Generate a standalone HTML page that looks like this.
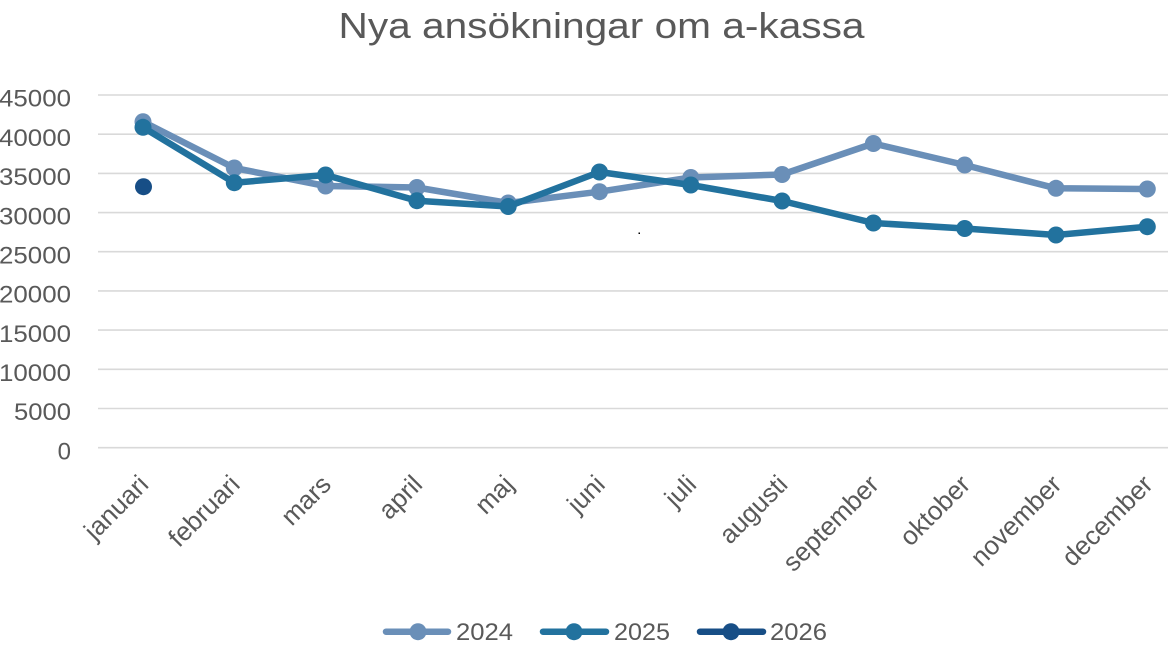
<!DOCTYPE html>
<html>
<head>
<meta charset="utf-8">
<style>
html,body{margin:0;padding:0;background:#fff;}
svg{display:block;}
text{font-family:"Liberation Sans",sans-serif;fill:#595959;}
</style>
</head>
<body>
<svg width="1168" height="650" viewBox="0 0 1168 650" xmlns="http://www.w3.org/2000/svg">
<rect width="1168" height="650" fill="#fff"/>
<text x="338.5" y="38" font-size="36" textLength="526" lengthAdjust="spacingAndGlyphs">Nya ansökningar om a-kassa</text>

<g stroke="#d9d9d9" stroke-width="1.6">
<line x1="98" y1="447.7" x2="1168" y2="447.7"/>
<line x1="98" y1="408.5" x2="1168" y2="408.5"/>
<line x1="98" y1="369.3" x2="1168" y2="369.3"/>
<line x1="98" y1="330.1" x2="1168" y2="330.1"/>
<line x1="98" y1="290.9" x2="1168" y2="290.9"/>
<line x1="98" y1="251.7" x2="1168" y2="251.7"/>
<line x1="98" y1="212.6" x2="1168" y2="212.6"/>
<line x1="98" y1="173.4" x2="1168" y2="173.4"/>
<line x1="98" y1="134.2" x2="1168" y2="134.2"/>
<line x1="98" y1="95.0" x2="1168" y2="95.0"/>
</g>

<g font-size="24" text-anchor="end">
<text x="71" y="459.4">0</text>
<text x="71" y="420.2" textLength="57" lengthAdjust="spacingAndGlyphs">5000</text>
<text x="71" y="381.0" textLength="72" lengthAdjust="spacingAndGlyphs">10000</text>
<text x="71" y="341.8" textLength="72" lengthAdjust="spacingAndGlyphs">15000</text>
<text x="71" y="302.6" textLength="72" lengthAdjust="spacingAndGlyphs">20000</text>
<text x="71" y="263.4" textLength="72" lengthAdjust="spacingAndGlyphs">25000</text>
<text x="71" y="224.3" textLength="72" lengthAdjust="spacingAndGlyphs">30000</text>
<text x="71" y="185.1" textLength="72" lengthAdjust="spacingAndGlyphs">35000</text>
<text x="71" y="145.9" textLength="72" lengthAdjust="spacingAndGlyphs">40000</text>
<text x="71" y="106.7" textLength="72" lengthAdjust="spacingAndGlyphs">45000</text>
</g>

<g font-size="26" text-anchor="end">
<text transform="translate(150,486) rotate(-45)">januari</text>
<text transform="translate(241.3,486) rotate(-45)">februari</text>
<text transform="translate(332.6,486) rotate(-45)">mars</text>
<text transform="translate(423.9,486) rotate(-45)">april</text>
<text transform="translate(515.2,486) rotate(-45)">maj</text>
<text transform="translate(606.5,486) rotate(-45)">juni</text>
<text transform="translate(697.8,486) rotate(-45)">juli</text>
<text transform="translate(789.1,486) rotate(-45)">augusti</text>
<text transform="translate(880.4,486) rotate(-45)">september</text>
<text transform="translate(971.7,486) rotate(-45)">oktober</text>
<text transform="translate(1063,486) rotate(-45)">november</text>
<text transform="translate(1154.3,486) rotate(-45)">december</text>
</g>

<!-- 2024 -->
<g fill="#6a8fb8">
<polyline fill="none" stroke="#6a8fb8" stroke-width="6.5" stroke-linejoin="round" stroke-linecap="round"
 points="143,121.7 234.3,168 325.6,186 416.9,187.5 508.2,203 599.5,191.7 690.8,177.5 782.1,174.5 873.4,143.5 964.7,165 1056,188.3 1147.3,189"/>
<circle cx="143" cy="121.7" r="8.5"/>
<circle cx="234.3" cy="168" r="8.5"/>
<circle cx="325.6" cy="186" r="8.5"/>
<circle cx="416.9" cy="187.5" r="8.5"/>
<circle cx="508.2" cy="203" r="8.5"/>
<circle cx="599.5" cy="191.7" r="8.5"/>
<circle cx="690.8" cy="177.5" r="8.5"/>
<circle cx="782.1" cy="174.5" r="8.5"/>
<circle cx="873.4" cy="143.5" r="8.5"/>
<circle cx="964.7" cy="165" r="8.5"/>
<circle cx="1056" cy="188.3" r="8.5"/>
<circle cx="1147.3" cy="189" r="8.5"/>
</g>

<!-- 2025 -->
<g fill="#22729e">
<polyline fill="none" stroke="#22729e" stroke-width="6.5" stroke-linejoin="round" stroke-linecap="round"
 points="143,127.3 234.3,182.7 325.6,175 416.9,200.7 508.2,206.5 599.5,172 690.8,185 782.1,201 873.4,223 964.7,228.5 1056,235 1147.3,226.7"/>
<circle cx="143" cy="127.3" r="8.5"/>
<circle cx="234.3" cy="182.7" r="8.5"/>
<circle cx="325.6" cy="175" r="8.5"/>
<circle cx="416.9" cy="200.7" r="8.5"/>
<circle cx="508.2" cy="206.5" r="8.5"/>
<circle cx="599.5" cy="172" r="8.5"/>
<circle cx="690.8" cy="185" r="8.5"/>
<circle cx="782.1" cy="201" r="8.5"/>
<circle cx="873.4" cy="223" r="8.5"/>
<circle cx="964.7" cy="228.5" r="8.5"/>
<circle cx="1056" cy="235" r="8.5"/>
<circle cx="1147.3" cy="226.7" r="8.5"/>
</g>

<!-- 2026 -->
<circle cx="143.5" cy="186.7" r="8.5" fill="#174e86"/>

<rect x="638.5" y="232.5" width="1.5" height="1.5" fill="#000"/>

<!-- legend -->
<g stroke-width="6.5" stroke-linecap="round">
<line x1="386" y1="631.7" x2="448" y2="631.7" stroke="#6a8fb8"/>
<line x1="543" y1="631.7" x2="606" y2="631.7" stroke="#22729e"/>
<line x1="700" y1="631.7" x2="763" y2="631.7" stroke="#174e86"/>
</g>
<circle cx="418" cy="631.7" r="8.5" fill="#6a8fb8"/>
<circle cx="574" cy="631.7" r="8.5" fill="#22729e"/>
<circle cx="731" cy="631.7" r="8.5" fill="#174e86"/>
<g font-size="24">
<text x="456" y="640" textLength="57" lengthAdjust="spacingAndGlyphs">2024</text>
<text x="614" y="640" textLength="56" lengthAdjust="spacingAndGlyphs">2025</text>
<text x="770" y="640" textLength="57" lengthAdjust="spacingAndGlyphs">2026</text>
</g>
</svg>
</body>
</html>
